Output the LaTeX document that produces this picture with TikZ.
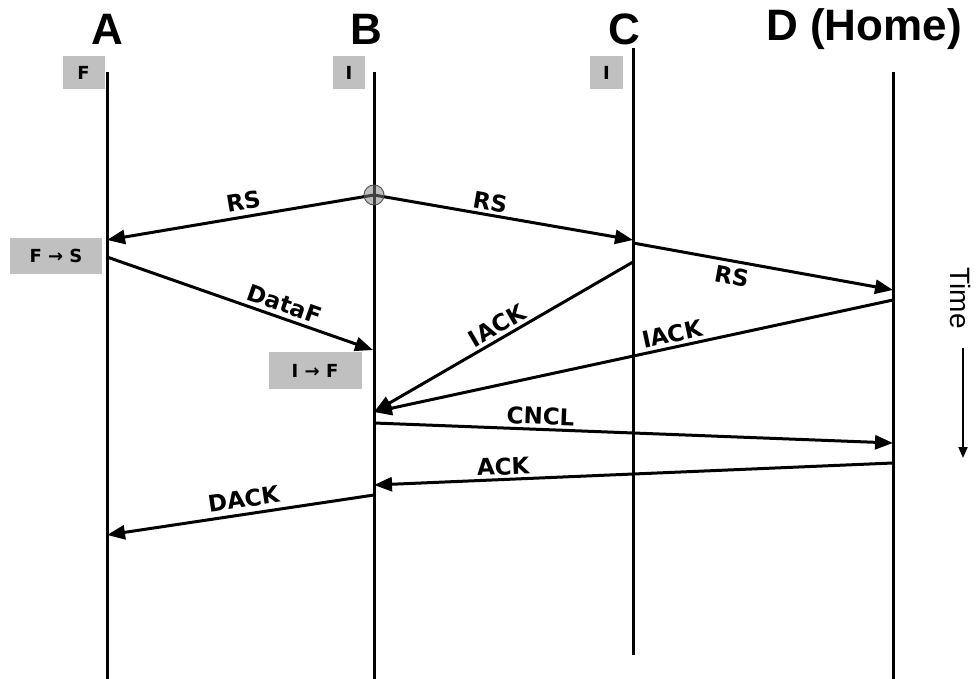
\documentclass[tikz,border=0pt]{standalone}
\usepackage{fontspec}
\setmainfont{DejaVu Sans}
\newfontfamily\headfont{Liberation Sans}
\newfontfamily\timefont{Liberation Sans}
\usetikzlibrary{arrows.meta}
\definecolor{boxgray}{RGB}{192,192,192}
\begin{document}
\begin{tikzpicture}[x=1pt,y=-1pt,
  lifeline/.style={line width=3pt},
  msg/.style={line width=3pt,-{Triangle[length=18pt,width=14pt]}},
  msglabel/.style={font=\fontsize{23}{26}\selectfont\bfseries,sloped,inner sep=1pt},
  header/.style={font=\headfont\fontsize{44}{48}\selectfont\bfseries},
  statebox/.style={fill=boxgray,font=\fontsize{18}{20}\selectfont\bfseries,inner sep=0pt,minimum height=33pt}]
\useasboundingbox (0,0) rectangle (977,679);
% headers
\node[header] (hA) at (107,29) {A};
\node[header] (hB) at (366,29) {B};
\node[header] (hC) at (624,29) {C};
\node[header] (hD) at (864,29) {D (Home)};
% lifelines
\coordinate (A0) at (107,72); \coordinate (A1) at (107,679);
\coordinate (B0) at (374,72); \coordinate (B1) at (374,679);
\coordinate (C0) at (633,48); \coordinate (C1) at (633,655);
\coordinate (D0) at (893,72); \coordinate (D1) at (893,679);
\draw[lifeline] (A0) -- (A1);
\draw[lifeline] (B0) -- (B1);
\draw[lifeline] (C0) -- (C1);
\draw[lifeline] (D0) -- (D1);
% state boxes
\node[statebox,minimum width=42pt] (sA) at (83.5,73) {F};
\node[statebox,minimum width=32pt] (sB) at (349,73) {I};
\node[statebox,minimum width=33pt] (sC) at (606.5,73) {I};
\node[statebox,minimum width=92pt,minimum height=36pt] (sFS) at (56,256) {F → S};
\node[statebox,minimum width=93pt,minimum height=37pt] (sIF) at (315,370.5) {I → F};
% event points
\coordinate (b1) at (374,195);
\coordinate (a1) at (107,240);
\coordinate (c1) at (633,240);
\coordinate (c2) at (633,243);
\coordinate (d1) at (893,290);
\coordinate (a2) at (107,257);
\coordinate (b2) at (373,350);
\coordinate (c3) at (633,262);
\coordinate (d2) at (893,300);
\coordinate (b3) at (374,412);
\coordinate (b4) at (374,423);
\coordinate (d3) at (893,443);
\coordinate (d4) at (893,463);
\coordinate (b5) at (374,485);
\coordinate (b6) at (374,495);
\coordinate (a3) at (107,535);
% messages
\draw[msg] (b1) -- node[msglabel,pos=0.48,above=4pt] {RS} (a1);
\draw[msg] (b1) -- node[msglabel,pos=0.44,above=2pt] {RS} (c1);
\draw[msg] (c2) -- node[msglabel,pos=0.39,below=4pt] {RS} (d1);
\draw[msg] (a2) -- node[msglabel,pos=0.65,above=3pt] {DataF} (b2);
\draw[msg] (c3) -- node[msglabel,pos=0.5,above=2pt] {IACK} (b3);
\draw[msg] (d2) -- node[msglabel,pos=0.42,above=2pt] {IACK} (b3);
\draw[msg] (b4) -- node[msglabel,pos=0.32,above=2pt] {CNCL} (d3);
\draw[msg] (d4) -- node[msglabel,pos=0.75,above=2pt] {ACK} (b5);
\draw[msg] (b6) -- node[msglabel,pos=0.48,above=4pt] {DACK} (a3);
% branching point
\node[circle,draw=black!70,fill=gray,fill opacity=0.5,draw opacity=0.9,line width=1pt,minimum size=20pt,inner sep=0pt] (fork) at (b1) {};
% time axis
\node[font=\timefont\fontsize{28}{30}\selectfont,rotate=-90] (time) at (960,298) {Time};
\coordinate (t0) at (963,348);
\coordinate (t1) at (963,458);
\draw[line width=2pt,-{Triangle[length=11pt,width=9pt]}] (t0) -- (t1);
\end{tikzpicture}
\end{document}
